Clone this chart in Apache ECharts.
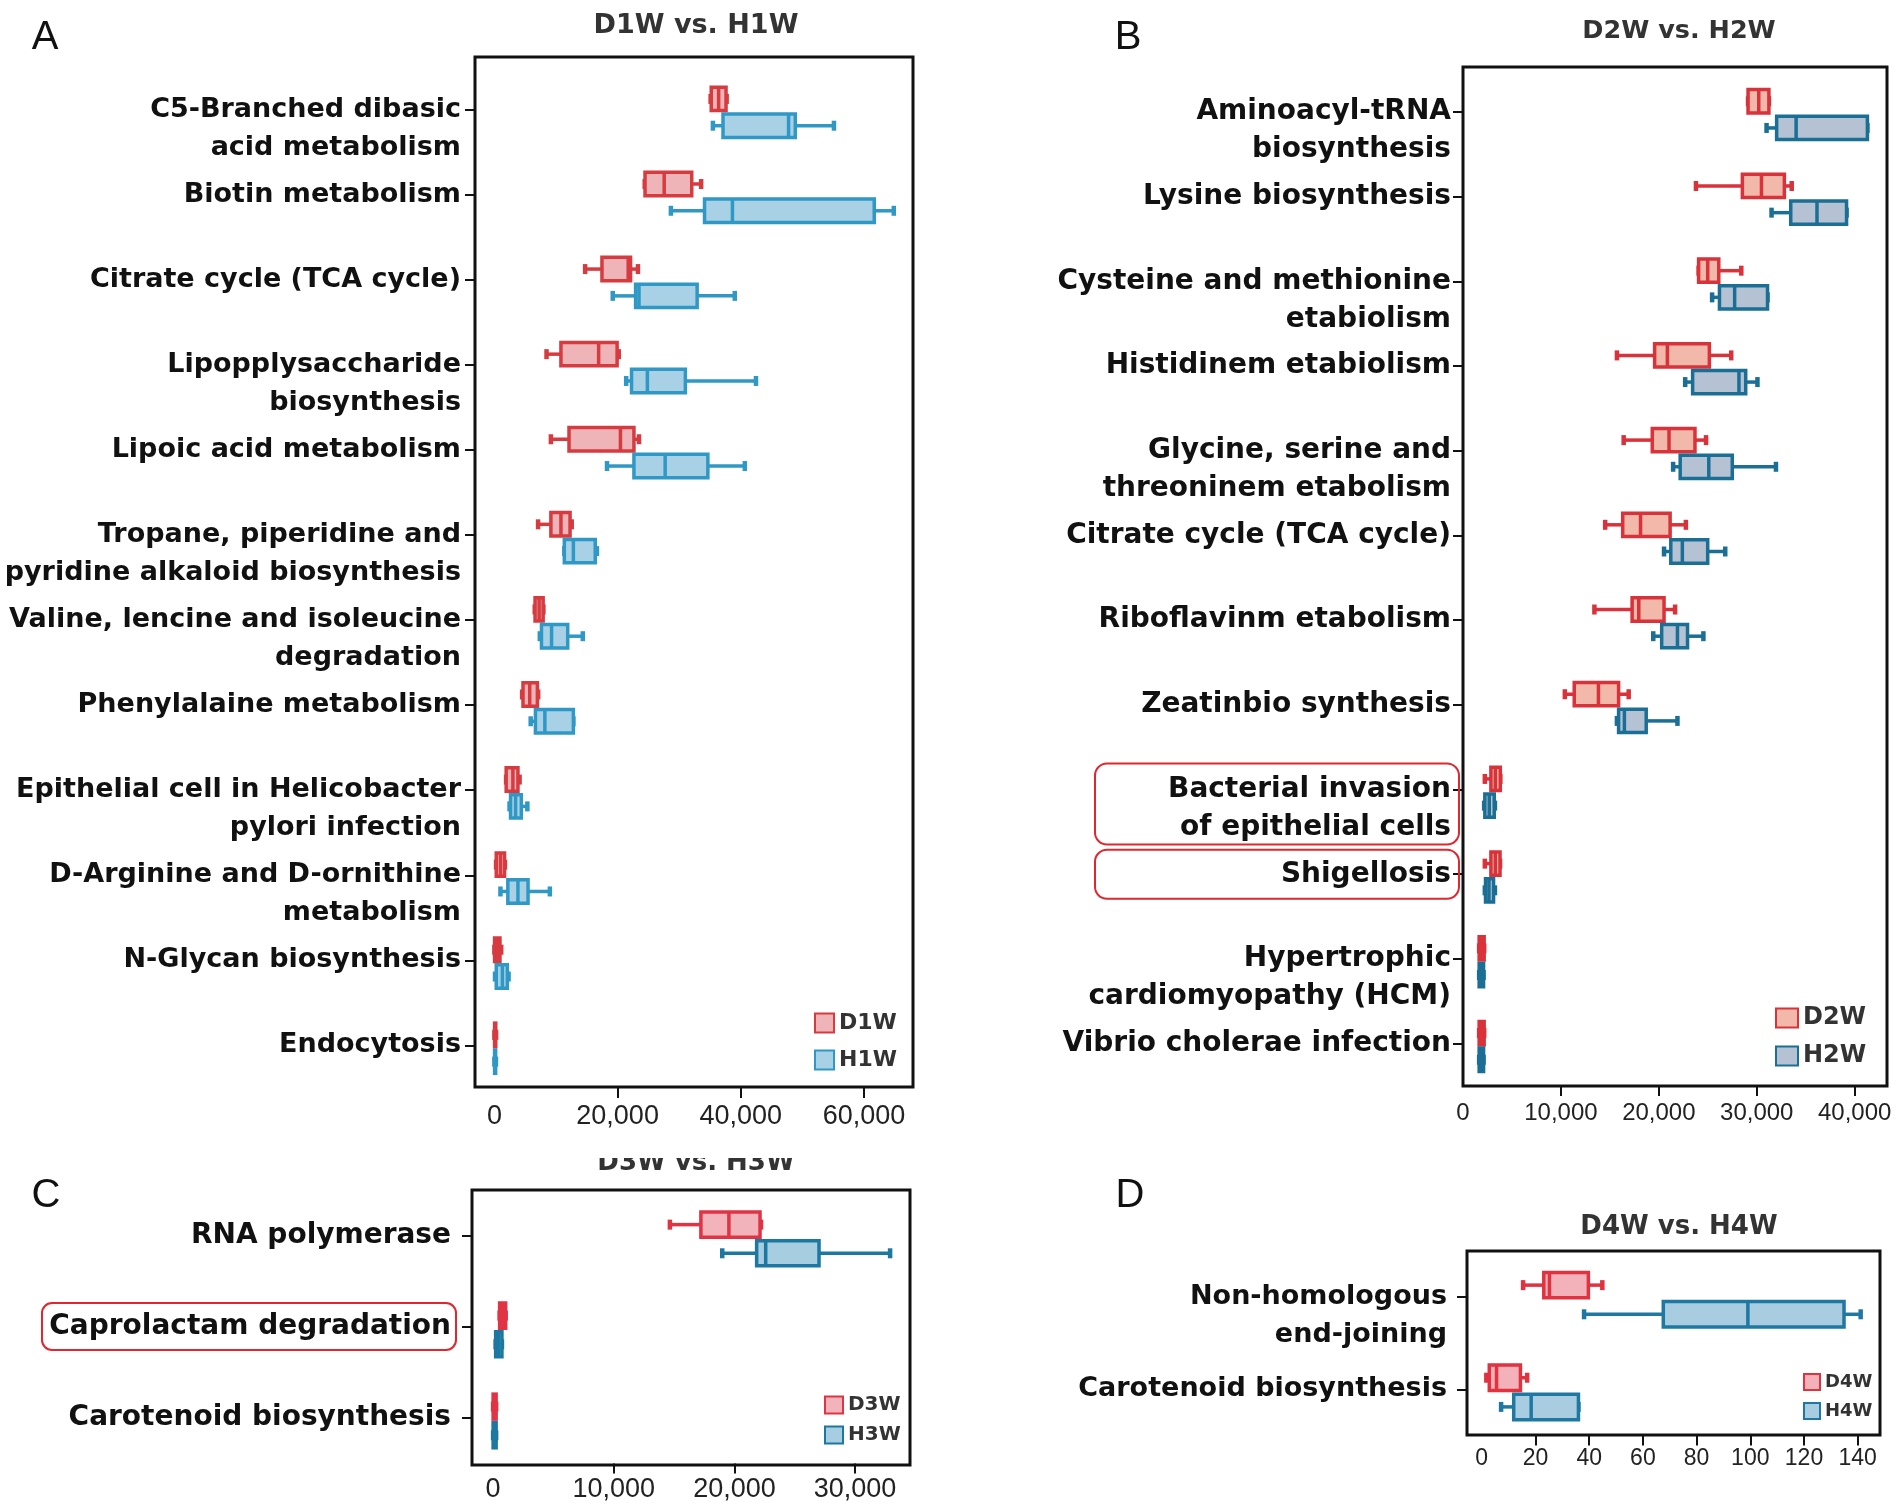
<!DOCTYPE html>
<html><head><meta charset="utf-8">
<script src="https://cdn.jsdelivr.net/npm/echarts@6/dist/echarts.min.js"></script>
<style>html,body{margin:0;padding:0;background:#fff}#c{width:1902px;height:1509px}</style>
</head><body><div id="c"></div>
<script>
// ---------- DATA ----------
// each row: [min, q1, median, q3, max]
const catsA = ['C5-Branched dibasic\nacid metabolism','Biotin metabolism','Citrate cycle (TCA cycle)','Lipopplysaccharide\nbiosynthesis','Lipoic acid metabolism','Tropane, piperidine and\npyridine alkaloid biosynthesis','Valine, lencine and isoleucine\ndegradation','Phenylalaine metabolism','Epithelial cell in Helicobacter\npylori infection','D-Arginine and D-ornithine\nmetabolism','N-Glycan biosynthesis','Endocytosis'];
const d1w = [[35100,35200,36400,37600,37700],[24400,24450,27560,32030,33560],[14730,17460,21720,22100,23300],[8460,10800,16920,19920,20190],[9170,12110,20460,22650,23470],[7090,9170,10800,12280,12550],[6550,6600,7260,7910,7950],[4500,4640,5730,6980,7100],[1900,1910,3000,3820,4090],[270,300,980,1640,1700],[0,30,500,900,1100],[0,30,100,220,270]];
const h1w = [[35470,37110,47750,48840,55120],[28650,34110,38640,61660,64830],[19210,22920,23470,32910,39020],[21390,22260,24830,31000,42460],[18280,22650,27720,34650,40650],[11350,11350,12820,16370,16640],[7370,7640,9280,11900,14350],[5890,6660,8190,12820,12820],[2460,2620,3440,4370,5350],[980,2180,3820,5460,9000],[100,300,1300,2100,2300],[0,30,100,200,250]];
const labelsA = [0, 20000, 40000, 60000];
const ticksA = [20000, 40000, 60000];

const catsB = ['Aminoacyl-tRNA\nbiosynthesis','Lysine biosynthesis','Cysteine and methionine\netabiolism','Histidinem etabiolism','Glycine, serine and\nthreoninem etabolism','Citrate cycle (TCA cycle)','Riboflavinm etabolism','Zeatinbio synthesis','Bacterial invasion\nof epithelial cells','Shigellosis','Hypertrophic\ncardiomyopathy (HCM)','Vibrio cholerae infection'];
const d2w = [[29110,29110,30200,31240,31240],[23790,28530,30480,32820,33570],[24060,24060,24990,26120,28420],[15720,19570,20870,25160,27390],[16410,19330,21040,23690,24820],[14520,16310,18130,21150,22760],[13420,17270,17950,20530,21660],[10400,11360,13830,15890,16920],[2230,2850,3300,3810,3810],[2230,2850,3300,3780,3780],[1650,1650,1900,2160,2160],[1650,1650,1900,2160,2160]];
const h2w = [[31000,32030,34020,41300,41300],[31510,33470,36150,39170,39170],[25440,26190,27740,31100,31100],[22690,23450,28180,28870,30070],[21460,22180,25100,27500,31960],[20530,21220,22400,24990,26780],[19430,20290,21900,22930,24550],[15720,15890,16480,18710,21900],[2160,2230,2680,3190,3260],[2230,2300,2650,3120,3260],[1650,1650,1850,2100,2100],[1650,1650,1850,2100,2100]];
const labelsB = [0, 10000, 20000, 30000, 40000];
const ticksB = [10000, 20000, 30000, 40000];

const catsC = ['RNA polymerase','Caprolactam degradation','Carotenoid biosynthesis'];
const d3w = [[14650,17220,19540,22120,22200],[540,540,800,1040,1040],[0,0,100,250,250]];
const h3w = [[18990,21840,22590,27010,32900],[210,210,450,730,730],[0,0,100,250,250]];
const labelsC = [0, 10000, 20000, 30000];
const ticksC = [10000, 20000, 30000];

const catsD = ['Non-homologous\nend-joining','Carotenoid biosynthesis'];
const d4w = [[15.4,23.1,25.2,39.7,44.9],[1.7,2.8,5.5,14.4,16.9]];
const h4w = [[38.1,67.6,99.1,134.9,141.1],[7.2,11.9,18.4,36.0,36.0]];
const labelsD = [0, 20, 40, 60, 80, 100, 120, 140];
const ticksD = [20, 40, 60, 80, 100, 120, 140];

const titles = ['D1W vs. H1W','D2W vs. H2W','D3W vs. H3W','D4W vs. H4W'];
const letters = ['A','B','C','D'];

// ---------- LAYOUT / STYLE ----------
const panels = [
  {cats:catsA, red:d1w, blue:h1w, rn:'D1W', bn:'H1W', labels:labelsA, ticks:ticksA,
   grid:{left:475, top:67, width:438, height:1021}, frame:[475,57,438,1030], xr:[-3150,67950],
   ylab:{fontSize:27, lineHeight:38, margin:14}, xlab:{fontSize:27, margin:15},
   col:{rs:'#d63b40', rf:'#efb4b7', bs:'#2f98c5', bf:'#a9d1e5'},
   leg:{left:814, top:1012, w:19, h:19, gap:15, fs:22},
   title:{x:696, y:12, fs:27}, letter:{x:45, y:18}},
  {cats:catsB, red:d2w, blue:h2w, rn:'D2W', bn:'H2W', labels:labelsB, ticks:ticksB,
   grid:{left:1463, top:69.5, width:424, height:1016.5}, frame:[1463,67,424,1019], xr:[0,43300],
   ylab:{fontSize:28, lineHeight:38, margin:12}, xlab:{fontSize:24, margin:15},
   col:{rs:'#d8323a', rf:'#f2b8a9', bs:'#1b6f94', bf:'#b5c2d4'},
   leg:{left:1775, top:1006, w:22, h:19, gap:14, fs:24},
   title:{x:1679, y:18, fs:25.5}, letter:{x:1128, y:18}},
  {cats:catsC, red:d3w, blue:h3w, rn:'D3W', bn:'H3W', labels:labelsC, ticks:ticksC,
   grid:{left:472, top:1190.5, width:438, height:273}, frame:[472,1190,438,275], xr:[-1750,34550],
   ylab:{fontSize:28, lineHeight:38, margin:21}, xlab:{fontSize:27, margin:13},
   col:{rs:'#e03445', rf:'#f2b3bb', bs:'#1c77a1', bf:'#a6cde0'},
   leg:{left:824, top:1395, w:18, h:17, gap:10, fs:20},
   title:{x:696, y:1150, fs:26}, letter:{x:46, y:1176}},
  {cats:catsD, red:d4w, blue:h4w, rn:'D4W', bn:'H4W', labels:labelsD, ticks:ticksD,
   grid:{left:1467, top:1250.4, width:413, height:185.2}, frame:[1467,1251,413,184], xr:[-5.5,148.3],
   ylab:{fontSize:27, lineHeight:38, margin:20}, xlab:{fontSize:23, margin:12},
   col:{rs:'#e0323f', rf:'#f3b2b9', bs:'#1f78a2', bf:'#a8cde0'},
   leg:{left:1803, top:1373, w:16, h:16, gap:11, fs:18},
   title:{x:1679, y:1214, fs:26}, letter:{x:1130, y:1176}}
];

const RED_OFF = -0.125, BLUE_OFF = 0.19, BOX_H = 0.275;

function makeRender(off, stroke, fill) {
  return function (params, api) {
    const cat = api.value(0);
    const band = api.size([0, 1])[1];
    const yc = api.coord([0, cat])[1] + band * off;
    const h = band * BOX_H;
    const x = [1,2,3,4,5].map(i => api.coord([api.value(i), cat])[0]);
    const cap = 10, lw = 3.5;
    const ls = {stroke: stroke, lineWidth: lw};
    return {type:'group', children:[
      {type:'line', shape:{x1:x[0], y1:yc, x2:x[1], y2:yc}, style:ls},
      {type:'line', shape:{x1:x[3], y1:yc, x2:x[4], y2:yc}, style:ls},
      {type:'line', shape:{x1:x[0], y1:yc-cap/2, x2:x[0], y2:yc+cap/2}, style:{stroke:stroke, lineWidth:4.5}},
      {type:'line', shape:{x1:x[4], y1:yc-cap/2, x2:x[4], y2:yc+cap/2}, style:{stroke:stroke, lineWidth:4.5}},
      {type:'rect', shape:{x:x[1], y:yc-h/2, width:Math.max(x[3]-x[1],0.5), height:h}, style:{fill:fill, stroke:stroke, lineWidth:lw}},
      {type:'line', shape:{x1:x[2], y1:yc-h/2, x2:x[2], y2:yc+h/2}, style:ls}
    ]};
  };
}

const fmt = v => Number(v).toLocaleString('en-US');
const grids = [], xAxes = [], yAxes = [], series = [], legends = [], titleList = [], frames = [];

panels.forEach((p, i) => {
  grids.push(Object.assign({containLabel:false}, p.grid));
  xAxes.push({type:'value', gridIndex:i, min:p.xr[0], max:p.xr[1], position:'bottom',
    axisLine:{show:false, onZero:false}, splitLine:{show:false},
    axisTick:{show:true, length:10, customValues:p.ticks, lineStyle:{color:'#111', width:2}},
    axisLabel:{customValues:p.labels, formatter:fmt, fontFamily:'Liberation Sans', fontSize:p.xlab.fontSize, color:'#222', margin:p.xlab.margin}});
  yAxes.push({type:'category', gridIndex:i, data:p.cats, inverse:true, position:'left',
    axisLine:{show:false, onZero:false}, splitLine:{show:false},
    axisTick:{show:true, alignWithLabel:true, length:10, lineStyle:{color:'#111', width:2}},
    axisLabel:{interval:0, fontFamily:'DejaVu Sans', fontWeight:'bold', color:'#111',
      fontSize:p.ylab.fontSize, lineHeight:p.ylab.lineHeight, margin:p.ylab.margin,
      formatter: v => v.indexOf('\n') >= 0 ? ' \n' + v : v}});
  [[p.rn, p.red, RED_OFF, p.col.rs, p.col.rf], [p.bn, p.blue, BLUE_OFF, p.col.bs, p.col.bf]].forEach(s => {
    series.push({type:'custom', name:s[0], xAxisIndex:i, yAxisIndex:i,
      encode:{x:[1,2,3,4,5], y:0},
      itemStyle:{color:s[4], borderColor:s[3], borderWidth:2},
      data: s[1].map((r, k) => [k].concat(r)),
      renderItem: makeRender(s[2], s[3], s[4])});
  });
  legends.push({orient:'vertical', left:p.leg.left, top:p.leg.top, padding:0,
    itemWidth:p.leg.w, itemHeight:p.leg.h, itemGap:p.leg.gap, selectedMode:false,
    textStyle:{fontFamily:'DejaVu Sans', fontWeight:'bold', fontSize:p.leg.fs, color:'#333'},
    data:[{name:p.rn, icon:'rect', itemStyle:{color:p.col.rf, borderColor:p.col.rs, borderWidth:2}},
          {name:p.bn, icon:'rect', itemStyle:{color:p.col.bf, borderColor:p.col.bs, borderWidth:2}}]});
  titleList.push({text:titles[i], left:p.title.x, top:p.title.y, textAlign:'center', padding:0,
    textStyle:{fontFamily:'DejaVu Sans', fontWeight:'bold', fontSize:p.title.fs, color:'#333'}});
  titleList.push({text:letters[i], left:p.letter.x, top:p.letter.y, textAlign:'center', padding:0,
    textStyle:{fontFamily:'Liberation Sans', fontWeight:'normal', fontSize:40, color:'#111'}});
  frames.push({type:'rect', shape:{x:p.frame[0], y:p.frame[1], width:p.frame[2], height:p.frame[3]},
    style:{fill:'none', stroke:'#111', lineWidth:3}, z:50});
});

const chart = echarts.init(document.getElementById('c'), null, {renderer:'canvas'});
chart.setOption({animation:false, backgroundColor:'#fff',
  title:titleList, grid:grids, xAxis:xAxes, yAxis:yAxes, legend:legends, series:series});

// highlight boxes around labels, positioned through the category axes
const yBac = chart.convertToPixel({yAxisIndex:1}, catsB[8]);
const yShi = chart.convertToPixel({yAxisIndex:1}, catsB[9]);
const yCap = chart.convertToPixel({yAxisIndex:2}, catsC[1]);
const gB = panels[1].grid.left, gC = panels[2].grid.left;
const hl = {fill:'none', stroke:'#e0262e', lineWidth:2};
const graphics = frames.concat([
  {type:'rect', shape:{x:gB-368, y:yBac-26, width:364, height:81, r:12}, style:hl, z:60},
  {type:'rect', shape:{x:gB-368, y:yShi-24.5, width:364, height:49, r:12}, style:hl, z:60},
  {type:'rect', shape:{x:gC-430, y:yCap-24, width:414, height:47, r:10}, style:hl, z:60},
  // the reference's C title is partly hidden behind the panel above
  {type:'rect', shape:{x:560, y:1133, width:280, height:25}, style:{fill:'#fff'}, z:100}
]);
chart.setOption({graphic: graphics});
</script></body></html>
